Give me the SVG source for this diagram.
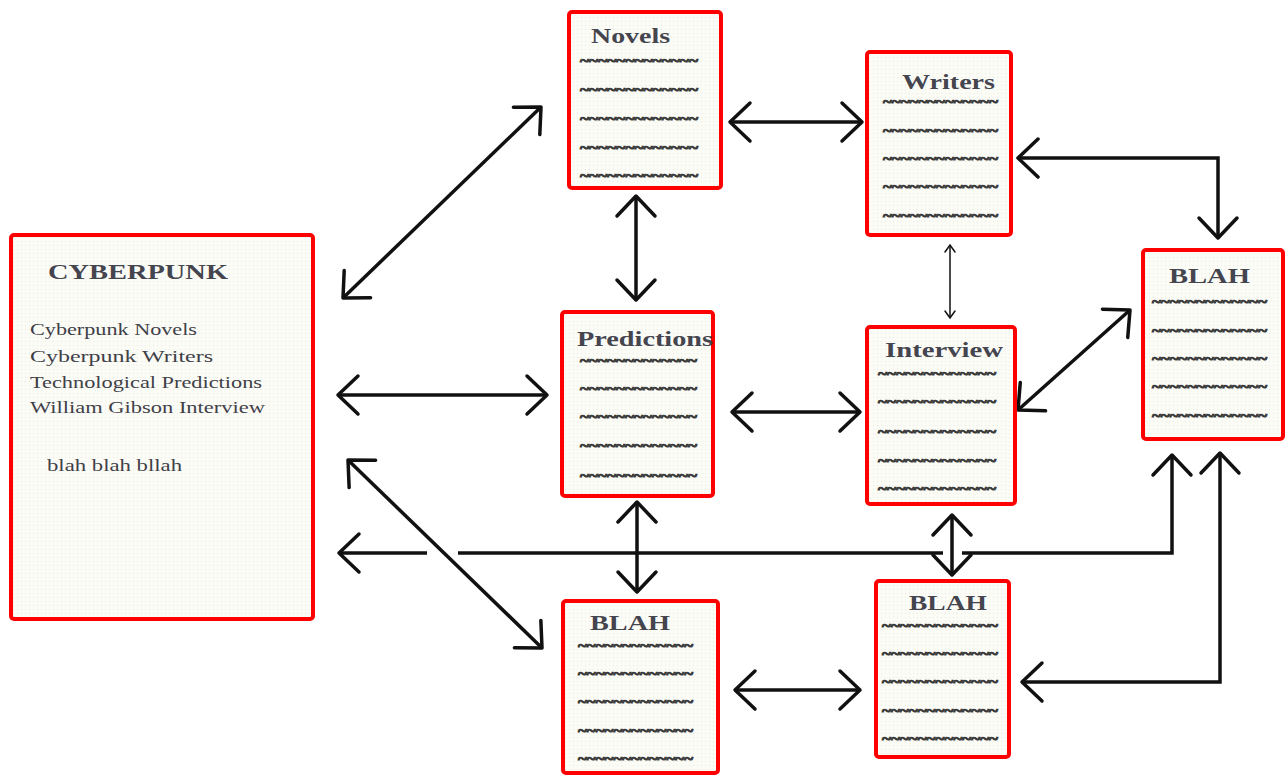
<svg xmlns="http://www.w3.org/2000/svg" width="1286" height="776" viewBox="0 0 1286 776">
<defs>
  <pattern id="dots" width="4" height="4" patternUnits="userSpaceOnUse">
    <rect width="4" height="4" fill="#fcfcf7"/>
    <rect x="1" y="1" width="1" height="1" fill="#e8e8e4"/>
  </pattern>
  <marker id="ah" viewBox="-30 -25 35 50" refX="0" refY="0" markerWidth="35" markerHeight="50" markerUnits="userSpaceOnUse" orient="auto-start-reverse">
    <path d="M-20,-19 L0,0 L-20,19" fill="none" stroke="#111" stroke-width="3.5" stroke-linecap="round" stroke-linejoin="round"/>
  </marker>
  <marker id="ahs" viewBox="-10 -8 12 16" refX="0" refY="0" markerWidth="12" markerHeight="16" markerUnits="userSpaceOnUse" orient="auto-start-reverse">
    <path d="M-7,-5 L0,0 L-7,5" fill="none" stroke="#111" stroke-width="1.5" stroke-linecap="round"/>
  </marker>
</defs>
<style>
  .box { fill: url(#dots); stroke: #ff0000; stroke-width: 4; }
  .title { font-family: "Liberation Serif", serif; font-weight: bold; font-size: 22px; fill: #45454f; }
  .body { font-family: "Liberation Serif", serif; font-size: 16px; fill: #404048; }
  .wave { font-family: "Liberation Serif", serif; font-weight: bold; font-size: 14px; fill: #3a3a3a; stroke: #3a3a3a; stroke-width: 0.9; }
  .line { fill: none; stroke: #111; stroke-width: 3.5; }
  .conn { fill: none; stroke: #111; stroke-width: 3.5; marker-start: url(#ah); marker-end: url(#ah); }
  .thin { fill: none; stroke: #111; stroke-width: 1.5; marker-start: url(#ahs); marker-end: url(#ahs); }
</style>
<rect width="1286" height="776" fill="#ffffff"/>

<g id="connectors">
  <path class="conn" d="M343,298 L541,107"/>
  <path class="conn" d="M338,395 H547"/>
  <path class="conn" d="M348,460 L542,648"/>
  <path class="line" d="M339,553 H427" marker-start="url(#ah)"/>
  <path class="line" d="M458,553 H943"/>
  <path class="line" d="M962,553 H1172 V455" marker-end="url(#ah)"/>
  <path class="conn" d="M730,122 H862"/>
  <path class="conn" d="M636,196 V300"/>
  <path class="conn" d="M1018,158 H1218 V238"/>
  <path class="thin" d="M950,245 V318"/>
  <path class="conn" d="M732,412 H860"/>
  <path class="conn" d="M1018,410 L1130,310"/>
  <path class="conn" d="M637,502 V592"/>
  <path class="conn" d="M952,515 V575"/>
  <path class="conn" d="M735,690 H860"/>
  <path class="conn" d="M1022,682 H1220 V453"/>
</g>

<g id="cyberpunk">
  <rect class="box" x="11" y="235" width="302" height="384" rx="3"/>
  <text class="title" x="48" y="279" font-size="24" textLength="180" lengthAdjust="spacingAndGlyphs">CYBERPUNK</text>
  <text class="body" x="30" y="335" textLength="167" lengthAdjust="spacingAndGlyphs">Cyberpunk Novels</text>
  <text class="body" x="30" y="362" textLength="183" lengthAdjust="spacingAndGlyphs">Cyberpunk  Writers</text>
  <text class="body" x="30" y="388" textLength="232" lengthAdjust="spacingAndGlyphs">Technological Predictions</text>
  <text class="body" x="30" y="413" textLength="235" lengthAdjust="spacingAndGlyphs">William  Gibson Interview</text>
  <text class="body" x="47" y="471" textLength="135" lengthAdjust="spacingAndGlyphs">blah  blah bllah</text>
</g>

<g id="novels">
  <rect class="box" x="569" y="12" width="152" height="176" rx="3"/>
  <text class="title" x="591" y="43" textLength="79" lengthAdjust="spacingAndGlyphs">Novels</text>
  <text class="wave" x="580" y="66" textLength="118" lengthAdjust="spacingAndGlyphs">~~~~~~~~~~~~~</text>
  <text class="wave" x="580" y="95" textLength="118" lengthAdjust="spacingAndGlyphs">~~~~~~~~~~~~~</text>
  <text class="wave" x="580" y="124" textLength="118" lengthAdjust="spacingAndGlyphs">~~~~~~~~~~~~~</text>
  <text class="wave" x="580" y="153" textLength="118" lengthAdjust="spacingAndGlyphs">~~~~~~~~~~~~~</text>
  <text class="wave" x="580" y="181" textLength="118" lengthAdjust="spacingAndGlyphs">~~~~~~~~~~~~~</text>
</g>

<g id="writers">
  <rect class="box" x="867" y="52" width="144" height="183" rx="3"/>
  <text class="title" x="902" y="89" textLength="93" lengthAdjust="spacingAndGlyphs">Writers</text>
  <text class="wave" x="883" y="107" textLength="115" lengthAdjust="spacingAndGlyphs">~~~~~~~~~~~~~</text>
  <text class="wave" x="883" y="136" textLength="115" lengthAdjust="spacingAndGlyphs">~~~~~~~~~~~~~</text>
  <text class="wave" x="883" y="164" textLength="115" lengthAdjust="spacingAndGlyphs">~~~~~~~~~~~~~</text>
  <text class="wave" x="883" y="192" textLength="115" lengthAdjust="spacingAndGlyphs">~~~~~~~~~~~~~</text>
  <text class="wave" x="883" y="221" textLength="115" lengthAdjust="spacingAndGlyphs">~~~~~~~~~~~~~</text>
</g>

<g id="blah-right">
  <rect class="box" x="1143" y="250" width="140" height="189" rx="3"/>
  <text class="title" x="1169" y="283" textLength="81" lengthAdjust="spacingAndGlyphs">BLAH</text>
  <text class="wave" x="1152" y="307" textLength="115" lengthAdjust="spacingAndGlyphs">~~~~~~~~~~~~~</text>
  <text class="wave" x="1152" y="336" textLength="115" lengthAdjust="spacingAndGlyphs">~~~~~~~~~~~~~</text>
  <text class="wave" x="1152" y="364" textLength="115" lengthAdjust="spacingAndGlyphs">~~~~~~~~~~~~~</text>
  <text class="wave" x="1152" y="392" textLength="115" lengthAdjust="spacingAndGlyphs">~~~~~~~~~~~~~</text>
  <text class="wave" x="1152" y="421" textLength="115" lengthAdjust="spacingAndGlyphs">~~~~~~~~~~~~~</text>
</g>

<g id="predictions">
  <rect class="box" x="562" y="312" width="151" height="184" rx="3" stroke-width="5"/>
  <text class="title" x="577" y="346" textLength="136" lengthAdjust="spacingAndGlyphs">Predictions</text>
  <text class="wave" x="580" y="366" textLength="117" lengthAdjust="spacingAndGlyphs">~~~~~~~~~~~~~</text>
  <text class="wave" x="580" y="394" textLength="117" lengthAdjust="spacingAndGlyphs">~~~~~~~~~~~~~</text>
  <text class="wave" x="580" y="422" textLength="117" lengthAdjust="spacingAndGlyphs">~~~~~~~~~~~~~</text>
  <text class="wave" x="580" y="451" textLength="117" lengthAdjust="spacingAndGlyphs">~~~~~~~~~~~~~</text>
  <text class="wave" x="580" y="481" textLength="117" lengthAdjust="spacingAndGlyphs">~~~~~~~~~~~~~</text>
</g>

<g id="interview">
  <rect class="box" x="867" y="327" width="148" height="177" rx="3"/>
  <text class="title" x="885" y="357" textLength="118" lengthAdjust="spacingAndGlyphs">Interview</text>
  <text class="wave" x="878" y="379" textLength="118" lengthAdjust="spacingAndGlyphs">~~~~~~~~~~~~~</text>
  <text class="wave" x="878" y="407" textLength="118" lengthAdjust="spacingAndGlyphs">~~~~~~~~~~~~~</text>
  <text class="wave" x="878" y="437" textLength="118" lengthAdjust="spacingAndGlyphs">~~~~~~~~~~~~~</text>
  <text class="wave" x="878" y="466" textLength="118" lengthAdjust="spacingAndGlyphs">~~~~~~~~~~~~~</text>
  <text class="wave" x="878" y="494" textLength="118" lengthAdjust="spacingAndGlyphs">~~~~~~~~~~~~~</text>
</g>

<g id="blah-bottom-left">
  <rect class="box" x="563" y="601" width="155" height="172" rx="3" stroke-width="3"/>
  <text class="title" x="590" y="630" textLength="80" lengthAdjust="spacingAndGlyphs">BLAH</text>
  <text class="wave" x="578" y="651" textLength="115" lengthAdjust="spacingAndGlyphs">~~~~~~~~~~~~~</text>
  <text class="wave" x="578" y="679" textLength="115" lengthAdjust="spacingAndGlyphs">~~~~~~~~~~~~~</text>
  <text class="wave" x="578" y="707" textLength="115" lengthAdjust="spacingAndGlyphs">~~~~~~~~~~~~~</text>
  <text class="wave" x="578" y="736" textLength="115" lengthAdjust="spacingAndGlyphs">~~~~~~~~~~~~~</text>
  <text class="wave" x="578" y="764" textLength="115" lengthAdjust="spacingAndGlyphs">~~~~~~~~~~~~~</text>
</g>

<g id="blah-bottom-right">
  <rect class="box" x="876" y="581" width="133" height="176" rx="3" stroke-width="3"/>
  <text class="title" x="909" y="610" textLength="78" lengthAdjust="spacingAndGlyphs">BLAH</text>
  <text class="wave" x="882" y="631" textLength="116" lengthAdjust="spacingAndGlyphs">~~~~~~~~~~~~~</text>
  <text class="wave" x="882" y="659" textLength="116" lengthAdjust="spacingAndGlyphs">~~~~~~~~~~~~~</text>
  <text class="wave" x="882" y="687" textLength="116" lengthAdjust="spacingAndGlyphs">~~~~~~~~~~~~~</text>
  <text class="wave" x="882" y="716" textLength="116" lengthAdjust="spacingAndGlyphs">~~~~~~~~~~~~~</text>
  <text class="wave" x="882" y="744" textLength="116" lengthAdjust="spacingAndGlyphs">~~~~~~~~~~~~~</text>
</g>
</svg>
